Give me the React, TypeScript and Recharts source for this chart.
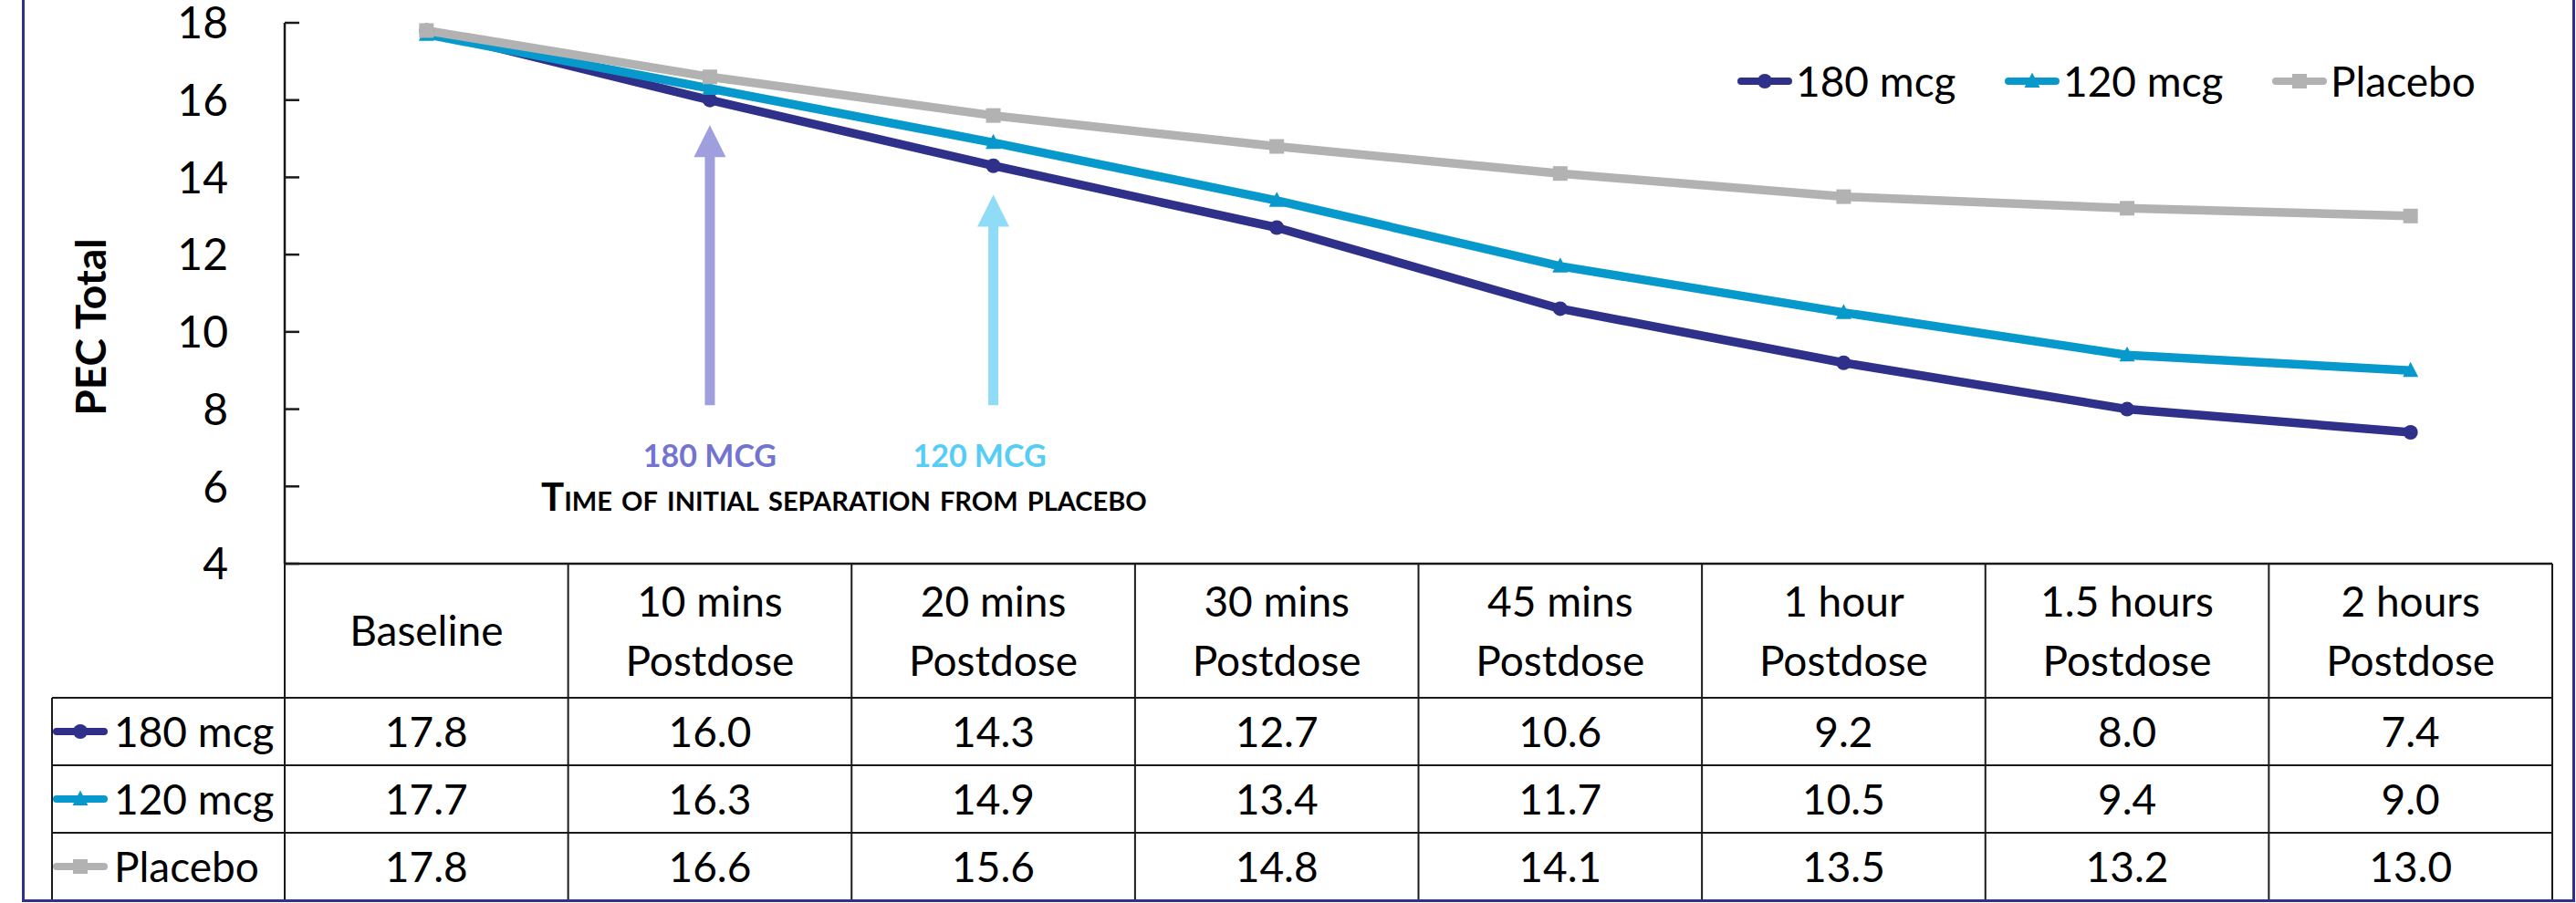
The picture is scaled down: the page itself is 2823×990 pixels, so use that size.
import * as React from 'react'
import { ComposedChart, Line, XAxis, YAxis, Legend, ReferenceLine, Label } from 'recharts'

const categories = [
  'Baseline',
  '10 mins\nPostdose',
  '20 mins\nPostdose',
  '30 mins\nPostdose',
  '45 mins\nPostdose',
  '1 hour\nPostdose',
  '1.5 hours\nPostdose',
  '2 hours\nPostdose',
]
const dose180 = [17.8, 16.0, 14.3, 12.7, 10.6, 9.2, 8.0, 7.4]
const dose120 = [17.7, 16.3, 14.9, 13.4, 11.7, 10.5, 9.4, 9.0]
const placebo = [17.8, 16.6, 15.6, 14.8, 14.1, 13.5, 13.2, 13.0]
const yTicks = [4, 6, 8, 10, 12, 14, 16, 18]

const series = [
  { key: 'd180', name: '180 mcg', color: '#2e3089', marker: 'circle', values: dose180 },
  { key: 'd120', name: '120 mcg', color: '#0899cc', marker: 'triangle', values: dose120 },
  { key: 'placebo', name: 'Placebo', color: '#b2b2b2', marker: 'square', values: placebo },
]

// separation arrows: category index, shaft bottom / tip in data units
const arrows = [
  { at: 1, from: 8.1, to: 15.35, color: '#a09fde', textColor: '#7373d2', label: '180 MCG', labelDx: 0, caption: true },
  { at: 2, from: 8.1, to: 13.55, color: '#90dcf7', textColor: '#55cdf7', label: '120 MCG', labelDx: -15, caption: false },
]

const data = categories.map((cat, i) => {
  const row: Record<string, any> = { idx: i, cat }
  series.forEach((s) => (row[s.key] = s.values[i]))
  return row
})
const xTicks = categories.map((_, i) => i)

const FONT = 'Lato, "Open Sans", sans-serif'
const W = 2823
const H = 990
const PLOT_LEFT = 312
const PLOT_RIGHT = 2797
const PLOT_TOP = 25
const PLOT_BOTTOM = 618
const COL_W = (PLOT_RIGHT - PLOT_LEFT) / categories.length
const HEADER_H = 147
const ROW_H = 74
const LABEL_W = 255
const GRID = '#1a1a1a'
const BORDER = '#2e3192'

function Marker({ shape, cx, cy, color }: any) {
  if (shape === 'circle') return <circle cx={cx} cy={cy} r={8} fill={color} />
  if (shape === 'triangle')
    return <polygon points={`${cx},${cy - 9.5} ${cx + 8.5},${cy + 7} ${cx - 8.5},${cy + 7}`} fill={color} />
  return <rect x={cx - 8} y={cy - 8} width={16} height={16} fill={color} />
}

function Glyph({ s, x, y }: any) {
  return (
    <g>
      <line x1={x + 4} x2={x + 56} y1={y} y2={y} stroke={s.color} strokeWidth={8} strokeLinecap="round" />
      <Marker shape={s.marker} cx={x + 30} cy={y} color={s.color} />
    </g>
  )
}

const YTick = (props: any) => {
  const { x, y, payload } = props
  return (
    <g>
      <line x1={x} x2={x + 16} y1={y} y2={y} stroke={GRID} strokeWidth={2.5} />
      <text x={x - 62} y={y} dy="0.36em" textAnchor="end" fontFamily={FONT} fontSize={48} fill="#000">
        {payload.value}
      </text>
    </g>
  )
}

const TableTick = (props: any) => {
  const { x, y, payload } = props
  const index = Number(payload.value)
  const left = x - COL_W / 2
  const bottom = y + HEADER_H + ROW_H * series.length
  const lines = categories[index].split('\n')
  const headerMid = y + HEADER_H / 2
  return (
    <g>
      {index === 0 && (
        <g>
          {series.map((_, k) => (
            <line
              key={k}
              x1={left - LABEL_W}
              x2={left + COL_W * categories.length}
              y1={y + HEADER_H + k * ROW_H}
              y2={y + HEADER_H + k * ROW_H}
              stroke={GRID}
              strokeWidth={2}
            />
          ))}
          <line x1={left - LABEL_W} x2={left + COL_W * categories.length} y1={bottom} y2={bottom} stroke={GRID} strokeWidth={2} />
          <line x1={left - LABEL_W} x2={left - LABEL_W} y1={y + HEADER_H} y2={bottom} stroke={GRID} strokeWidth={2} />
          {series.map((s, k) => {
            const cy = y + HEADER_H + k * ROW_H + ROW_H / 2
            return (
              <g key={s.key}>
                <Glyph s={s} x={left - LABEL_W + 1} y={cy} />
                <text x={left - LABEL_W + 68} y={cy} dy="0.36em" fontFamily={FONT} fontSize={46} fill="#000">
                  {s.name}
                </text>
              </g>
            )
          })}
        </g>
      )}
      <line x1={left} x2={left} y1={y} y2={bottom} stroke={GRID} strokeWidth={2} />
      {index === categories.length - 1 && (
        <line x1={left + COL_W} x2={left + COL_W} y1={y} y2={bottom} stroke={GRID} strokeWidth={2} />
      )}
      {lines.map((t, j) => (
        <text
          key={j}
          x={x}
          y={headerMid + (j - (lines.length - 1) / 2) * 65}
          dy="0.36em"
          textAnchor="middle"
          fontFamily={FONT}
          fontSize={46}
          fill="#000"
        >
          {t}
        </text>
      ))}
      {series.map((s, k) => (
        <text
          key={s.key}
          x={x}
          y={y + HEADER_H + k * ROW_H + ROW_H / 2}
          dy="0.36em"
          textAnchor="middle"
          fontFamily={FONT}
          fontSize={46}
          fill="#000"
        >
          {s.values[index].toFixed(1)}
        </text>
      ))}
    </g>
  )
}

const makeArrow = (a: any) => (props: any) => {
  const { x1, y1, y2 } = props
  const x = Number(x1)
  const top = Math.min(Number(y1), Number(y2))
  const bottom = Math.max(Number(y1), Number(y2))
  const head = 35
  const half = 17.5
  const sh = 5.5
  return (
    <g>
      <polygon
        points={`${x - sh},${bottom} ${x - sh},${top + head} ${x - half},${top + head} ${x},${top} ${x + half},${top + head} ${x + sh},${top + head} ${x + sh},${bottom}`}
        fill={a.color}
      />
      <text x={x + a.labelDx} y={bottom + 55} dy="0.36em" textAnchor="middle" fontFamily={FONT} fontWeight={700} fontSize={34} fill={a.textColor}>
        {a.label}
      </text>
      {a.caption && (
        <text x={x - 185} y={bottom + 116} fontFamily={FONT} fontWeight={700} fontSize={42} fill="#000" style={{ fontVariant: 'small-caps' }}>
          Time of initial separation from placebo
        </text>
      )}
    </g>
  )
}

const renderLegend = () => (
  <div style={{ display: 'flex', alignItems: 'center', fontFamily: FONT, fontSize: 46, lineHeight: '50px', color: '#000' }}>
    {series.map((s) => (
      <div key={s.key} style={{ display: 'flex', alignItems: 'center', width: 293 }}>
        <svg width={62} height={24}>
          <Glyph s={s} x={1} y={12} />
        </svg>
        <span style={{ marginLeft: 3 }}>{s.name}</span>
      </div>
    ))}
  </div>
)

const renderYLabel = (props: any) => {
  const vb = props.viewBox || {}
  const cx = 99
  const cy = (vb.y ?? PLOT_TOP) + (vb.height ?? PLOT_BOTTOM - PLOT_TOP) / 2 + 37
  return (
    <text
      x={cx}
      y={cy}
      transform={`rotate(-90 ${cx} ${cy})`}
      textAnchor="middle"
      dy="0.36em"
      fontFamily={FONT}
      fontWeight={700}
      fontSize={46}
      fill="#000"
    >
      PEC Total
    </text>
  )
}

export default function App() {
  return (
    <div style={{ position: 'absolute', left: 0, top: 0, width: W, height: H, background: '#fff' }}>
      <ComposedChart
        width={W}
        height={H}
        data={data}
        margin={{ top: PLOT_TOP, right: W - PLOT_RIGHT, left: 0, bottom: 0 }}
      >
        <XAxis
          dataKey="idx"
          type="number"
          domain={[-0.5, categories.length - 0.5]}
          ticks={xTicks}
          interval={0}
          height={H - PLOT_BOTTOM}
          tickLine={false}
          tickSize={0}
          tickMargin={0}
          axisLine={{ stroke: GRID, strokeWidth: 2.5 }}
          tick={(p: any) => <TableTick {...p} />}
        />
        <YAxis
          width={PLOT_LEFT}
          domain={[4, 18]}
          ticks={yTicks}
          interval={0}
          tickLine={false}
          tickSize={0}
          tickMargin={0}
          axisLine={{ stroke: GRID, strokeWidth: 2.5 }}
          tick={(p: any) => <YTick {...p} />}
        >
          <Label content={renderYLabel} />
        </YAxis>
        <Legend
          layout="horizontal"
          verticalAlign="middle"
          align="center"
          content={renderLegend}
          wrapperStyle={{ position: 'absolute', top: 64, left: 1903, width: 900, height: 50 }}
        />
        {arrows.map((a) => (
          <ReferenceLine
            key={a.label}
            segment={[
              { x: a.at, y: a.from },
              { x: a.at, y: a.to },
            ]}
            stroke={a.color}
            shape={makeArrow(a)}
          />
        ))}
        {series.map((s) => (
          <Line
            key={s.key}
            type="linear"
            dataKey={s.key}
            name={s.name}
            stroke={s.color}
            strokeWidth={9.5}
            strokeLinejoin="round"
            isAnimationActive={false}
            activeDot={false}
            dot={(p: any) => <Marker key={`${s.key}-${p.index}`} shape={s.marker} cx={p.cx} cy={p.cy} color={s.color} />}
          />
        ))}
      </ComposedChart>
      <div
        style={{
          position: 'absolute',
          left: 24,
          top: 0,
          width: 2798,
          height: 989,
          boxSizing: 'border-box',
          borderLeft: `3px solid ${BORDER}`,
          borderRight: `3px solid ${BORDER}`,
          borderBottom: `3px solid ${BORDER}`,
          pointerEvents: 'none',
        }}
      />
    </div>
  )
}
